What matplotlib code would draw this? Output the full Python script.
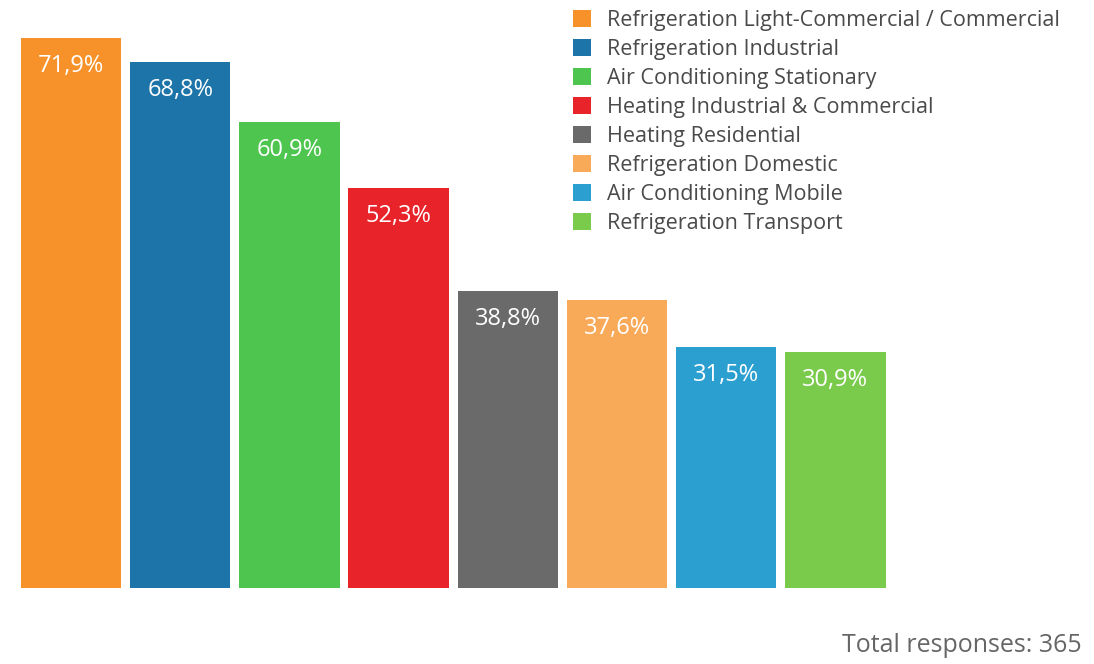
import matplotlib
matplotlib.use("Agg")
import matplotlib.pyplot as plt

categories = [
    "Refrigeration Light-Commercial / Commercial",
    "Refrigeration Industrial",
    "Air Conditioning Stationary",
    "Heating Industrial & Commercial",
    "Heating Residential",
    "Refrigeration Domestic",
    "Air Conditioning Mobile",
    "Refrigeration Transport",
]
values = [71.9, 68.8, 60.9, 52.3, 38.8, 37.6, 31.5, 30.9]
labels = ["71,9%", "68,8%", "60,9%", "52,3%", "38,8%", "37,6%", "31,5%", "30,9%"]
colors = ["#F7922A", "#1C74A8", "#4DC54E", "#E8232A", "#696A69", "#F9AA58", "#2C9FD1", "#7ACB4C"]
total_text = "Total responses: 365"

plt.rcParams['font.family'] = ['Open Sans', 'DejaVu Sans']

W, H = 1094, 664
fig = plt.figure(figsize=(W / 100, H / 100), dpi=100)
left_px, right_px = 16.4, 16.4 + 8 * 109.2
bottom_px = 588
ppu = 7.65
ymax = 75
ax = fig.add_axes([left_px / W, (H - bottom_px) / H, (right_px - left_px) / W, ymax * ppu / H])
x = list(range(len(values)))
bars = ax.bar(x, values, width=0.92, color=colors, label=categories)
ax.set_xlim(-0.5, 7.5)
ax.set_ylim(0, ymax)
ax.axis("off")

for b, lab in zip(bars, labels):
    ax.annotate(lab, (b.get_x() + b.get_width() / 2, b.get_height()),
                xytext=(0, -28), textcoords="offset pixels",
                ha="center", va="center", color="white", fontsize=17)

leg = fig.legend(handles=list(bars), labels=categories, loc="upper left",
                 bbox_to_anchor=(573 / W, 1 - 10 / H), frameon=False,
                 fontsize=15.5, labelcolor="#4a4a4a",
                 handlelength=0.82, handleheight=0.82, handletextpad=0.75,
                 labelspacing=0.37, borderpad=0, borderaxespad=0)

fig.text(1082 / W, 1 - 645 / H, total_text, ha="right", va="center",
         fontsize=18, color="#666666")

fig.savefig("out.png", dpi=100, facecolor="white")
